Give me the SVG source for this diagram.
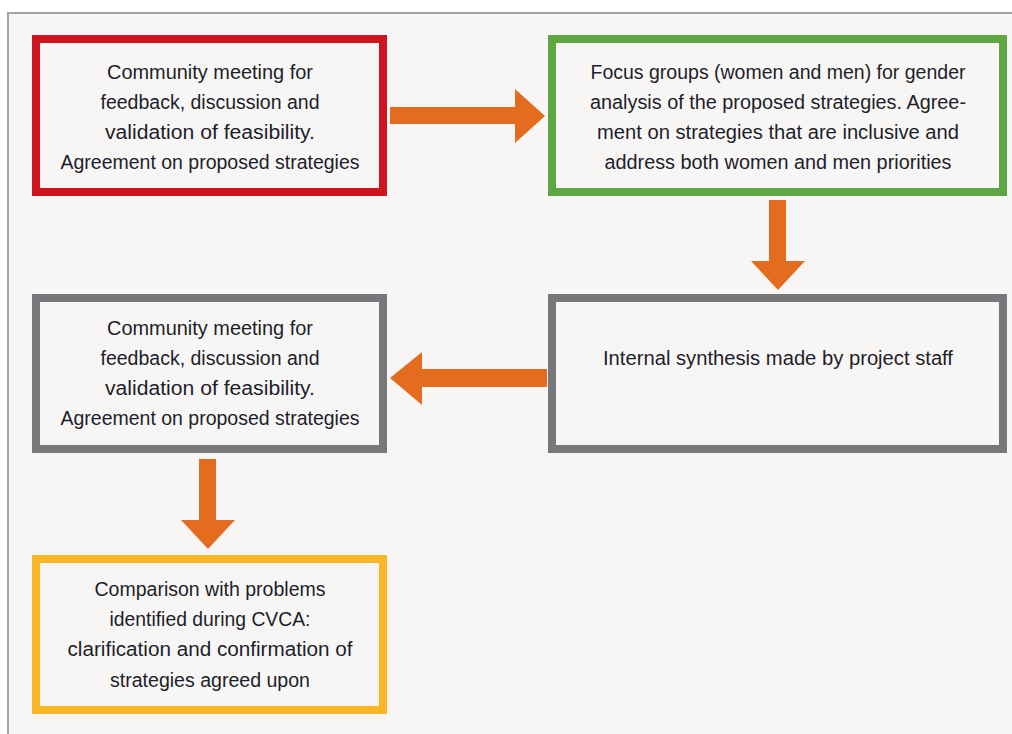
<svg xmlns="http://www.w3.org/2000/svg" width="1012" height="734" viewBox="0 0 1012 734">
<style>
.box{fill:#f7f6f4;stroke-width:8}
.t{font-family:"Liberation Sans",Arial,sans-serif;font-size:19.5px;fill:#1e1e2c;text-anchor:middle}
.arr{fill:#e46c1f}
</style>
<rect x="0" y="0" width="1012" height="734" fill="#ffffff"/>
<rect x="8" y="13" width="1020" height="740" fill="#f7f6f4" stroke="#a3a3a3" stroke-width="2"/>
<g id="connectors">
<polygon class="arr" points="390,107 515,107 515,89 545,116 515,143 515,124 390,124"/>
<polygon class="arr" points="769,200 786,200 786,261 805,261 778,290 751,261 769,261"/>
<polygon class="arr" points="547,369 422,369 422,352 390,378 422,405 422,387 547,387"/>
<polygon class="arr" points="199,459 216,459 216,520 235,520 208,549 181,520 199,520"/>
</g>
<g id="node1">
<rect class="box" x="36" y="39" width="347" height="153" stroke="#d0141f"/>
<text class="t" x="210" y="79" textLength="206" lengthAdjust="spacingAndGlyphs">Community meeting for</text>
<text class="t" x="210" y="109" textLength="219" lengthAdjust="spacingAndGlyphs">feedback, discussion and</text>
<text class="t" x="210" y="139" textLength="210" lengthAdjust="spacingAndGlyphs">validation of feasibility.</text>
<text class="t" x="210" y="169" textLength="299" lengthAdjust="spacingAndGlyphs">Agreement on proposed strategies</text>
</g>
<g id="node2">
<rect class="box" x="552" y="39" width="451" height="153" stroke="#5ea641"/>
<text class="t" x="778" y="79" textLength="375" lengthAdjust="spacingAndGlyphs">Focus groups (women and men) for gender</text>
<text class="t" x="778" y="109" textLength="376" lengthAdjust="spacingAndGlyphs">analysis of the proposed strategies. Agree-</text>
<text class="t" x="778" y="139" textLength="362" lengthAdjust="spacingAndGlyphs">ment on strategies that are inclusive and</text>
<text class="t" x="778" y="169" textLength="347" lengthAdjust="spacingAndGlyphs">address both women and men priorities</text>
</g>
<g id="node3">
<rect class="box" x="552" y="298" width="451" height="151" stroke="#77787b"/>
<text class="t" x="778" y="365" textLength="350" lengthAdjust="spacingAndGlyphs">Internal synthesis made by project staff</text>
</g>
<g id="node4">
<rect class="box" x="36" y="298" width="347" height="151" stroke="#77787b"/>
<text class="t" x="210" y="335" textLength="206" lengthAdjust="spacingAndGlyphs">Community meeting for</text>
<text class="t" x="210" y="365" textLength="219" lengthAdjust="spacingAndGlyphs">feedback, discussion and</text>
<text class="t" x="210" y="395" textLength="210" lengthAdjust="spacingAndGlyphs">validation of feasibility.</text>
<text class="t" x="210" y="425" textLength="299" lengthAdjust="spacingAndGlyphs">Agreement on proposed strategies</text>
</g>
<g id="node5">
<rect class="box" x="36" y="559" width="347" height="151" stroke="#fbb626"/>
<text class="t" x="210" y="596" textLength="231" lengthAdjust="spacingAndGlyphs">Comparison with problems</text>
<text class="t" x="210" y="626" textLength="201" lengthAdjust="spacingAndGlyphs">identified during CVCA:</text>
<text class="t" x="210" y="656" textLength="285" lengthAdjust="spacingAndGlyphs">clarification and confirmation of</text>
<text class="t" x="210" y="687" textLength="200" lengthAdjust="spacingAndGlyphs">strategies agreed upon</text>
</g>
</svg>
